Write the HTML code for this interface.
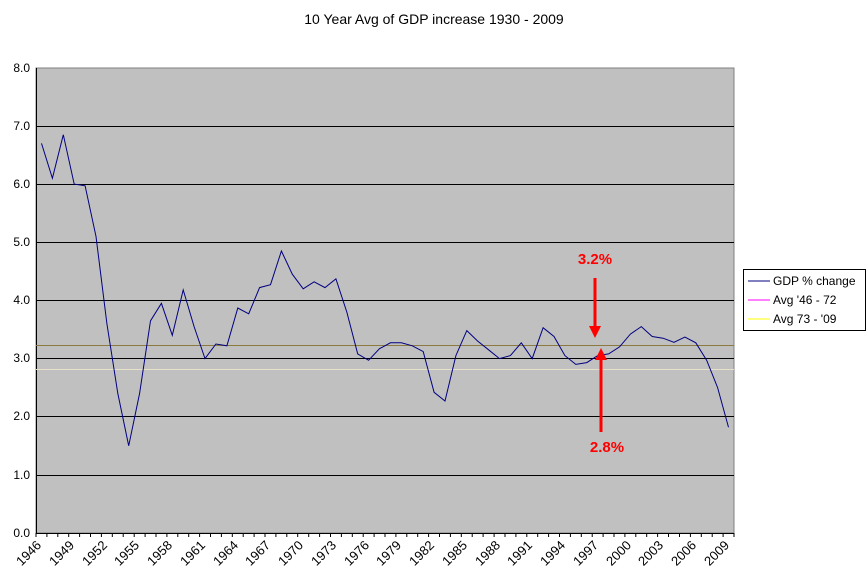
<!DOCTYPE html>
<html><head><style>body{margin:0;background:#fff}svg{display:block;font-family:"Liberation Sans",sans-serif}</style></head>
<body>
<svg width="868" height="585" xmlns="http://www.w3.org/2000/svg">
<text x="434" y="24" font-size="14" text-anchor="middle">10 Year Avg of GDP increase 1930 - 2009</text>
<rect x="36" y="68" width="698" height="465" fill="#c0c0c0" stroke="#808080"/>
<g stroke="#000" stroke-width="1">
<line x1="36" y1="126.5" x2="734" y2="126.5"/><line x1="36" y1="184.5" x2="734" y2="184.5"/>
<line x1="36" y1="242.5" x2="734" y2="242.5"/><line x1="36" y1="300.5" x2="734" y2="300.5"/>
<line x1="36" y1="358.5" x2="734" y2="358.5"/><line x1="36" y1="416.5" x2="734" y2="416.5"/>
<line x1="36" y1="475.5" x2="734" y2="475.5"/>
<line x1="36.5" y1="68" x2="36.5" y2="533"/><line x1="36" y1="533.5" x2="734" y2="533.5"/>
</g>
<line x1="36" y1="345.5" x2="734" y2="345.5" stroke="#8a7a40"/>
<line x1="36" y1="369.5" x2="734" y2="369.5" stroke="#e8e0c8"/>
<g font-size="12" text-anchor="end" fill="#000">
<text x="30" y="72">8.0</text><text x="30" y="130">7.0</text><text x="30" y="188">6.0</text>
<text x="30" y="246">5.0</text><text x="30" y="304">4.0</text><text x="30" y="362">3.0</text>
<text x="30" y="420">2.0</text><text x="30" y="479">1.0</text><text x="30" y="537">0.0</text>
</g>
<g id="ticks" stroke="#000"></g>
<polyline id="gdp" fill="none" stroke="#000080" stroke-width="1"/>
<g font-size="13" text-anchor="end" id="lbl">
<text transform="translate(42,546) rotate(-45)">1946</text>
<text transform="translate(75,546) rotate(-45)">1949</text>
<text transform="translate(108,546) rotate(-45)">1952</text>
<text transform="translate(140,546) rotate(-45)">1955</text>
<text transform="translate(173,546) rotate(-45)">1958</text>
<text transform="translate(206,546) rotate(-45)">1961</text>
<text transform="translate(239,546) rotate(-45)">1964</text>
<text transform="translate(271,546) rotate(-45)">1967</text>
<text transform="translate(304,546) rotate(-45)">1970</text>
<text transform="translate(337,546) rotate(-45)">1973</text>
<text transform="translate(370,546) rotate(-45)">1976</text>
<text transform="translate(402,546) rotate(-45)">1979</text>
<text transform="translate(435,546) rotate(-45)">1982</text>
<text transform="translate(468,546) rotate(-45)">1985</text>
<text transform="translate(501,546) rotate(-45)">1988</text>
<text transform="translate(533,546) rotate(-45)">1991</text>
<text transform="translate(566,546) rotate(-45)">1994</text>
<text transform="translate(599,546) rotate(-45)">1997</text>
<text transform="translate(632,546) rotate(-45)">2000</text>
<text transform="translate(664,546) rotate(-45)">2003</text>
<text transform="translate(697,546) rotate(-45)">2006</text>
<text transform="translate(730,546) rotate(-45)">2009</text>
</g>
<g fill="#f00" stroke="#f00">
<line x1="595" y1="278" x2="595" y2="328" stroke-width="3"/>
<polygon points="589,326 601,326 595,338" stroke="none"/>
<line x1="601" y1="432" x2="601" y2="358" stroke-width="3"/>
<polygon points="595,360 607,360 601,348" stroke="none"/>
</g>
<g fill="#f00" font-size="15" font-weight="bold" text-anchor="middle">
<text x="595" y="264">3.2%</text><text x="607" y="452">2.8%</text>
</g>
<rect x="743.5" y="269.5" width="122" height="61" fill="#fff" stroke="#000"/>
<line x1="748" y1="281" x2="770" y2="281" stroke="#000080"/>
<line x1="748" y1="300" x2="770" y2="300" stroke="#ff00ff"/>
<line x1="748" y1="319" x2="770" y2="319" stroke="#ffff00"/>
<g font-size="12"><text x="773" y="285">GDP % change</text><text x="773" y="304">Avg '46 - 72</text><text x="773" y="323">Avg 73 - '09</text></g>
</svg>
<script>
var d=[6.7,6.1,6.85,6.0,5.97,5.1,3.6,2.4,1.5,2.4,3.65,3.95,3.4,4.18,3.55,3.0,3.25,3.22,3.87,3.77,4.22,4.27,4.85,4.45,4.2,4.32,4.22,4.37,3.8,3.08,2.97,3.17,3.27,3.27,3.22,3.12,2.42,2.27,3.05,3.48,3.3,3.15,3.0,3.05,3.27,3.0,3.53,3.38,3.05,2.9,2.93,3.05,3.08,3.2,3.42,3.55,3.38,3.35,3.28,3.37,3.27,2.97,2.5,1.82];
var s=10.906,p=[];d.forEach(function(v,i){p.push((36+s*(i+0.5)).toFixed(1)+','+(533-v*58.15).toFixed(1))});
document.getElementById('gdp').setAttribute('points',p.join(' '));
var t='';for(var i=0;i<=64;i++){var x=(36+s*i).toFixed(1);t+='<line x1="'+x+'" y1="533" x2="'+x+'" y2="537"/>';}
document.getElementById('ticks').innerHTML=t;
</script>
</body></html>
